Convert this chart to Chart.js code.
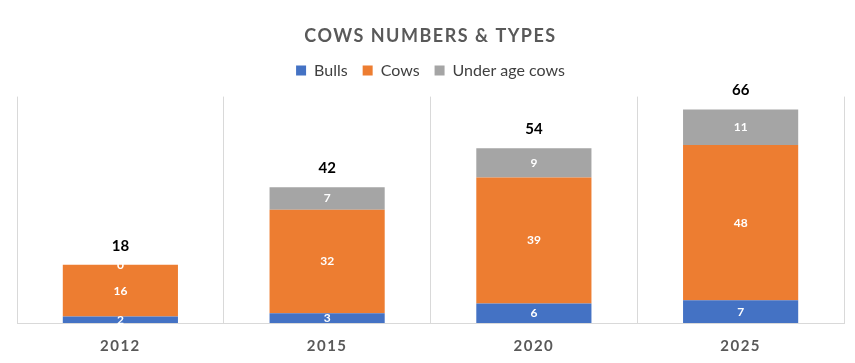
<!DOCTYPE html>
<html>
<head>
<meta charset="utf-8">
<script src="https://cdn.jsdelivr.net/npm/chart.js@4/dist/chart.umd.min.js"></script>
<style>
html,body{margin:0;padding:0;background:#fff;}
#wrap{width:855px;height:363px;}
</style>
</head>
<body>
<div id="wrap"><canvas id="c" width="855" height="363"></canvas></div>
<script>
const categories = ["2012", "2015", "2020", "2025"];
const bulls = [2, 3, 6, 7];
const cows = [16, 32, 39, 48];
const underAge = [0, 7, 9, 11];
const seriesNames = ["Bulls", "Cows", "Under age cows"];
const chartTitle = "COWS NUMBERS & TYPES";

const FONT = "Lato, 'Open Sans', sans-serif";

const spacingPlugin = {
  id: 'spacing',
  beforeLayout(chart) {
    const lg = chart.legend;
    if (lg && !lg._wfit) {
      const origFit = lg.fit.bind(lg);
      lg.fit = function () { origFit(); this.height += 8; };
      lg._wfit = true;
    }
  },
  afterLayout(chart) {
    const ctx = chart.ctx;
    const wrap = (obj, name, ls) => {
      if (!obj || obj['_w_' + name]) return;
      const orig = obj[name].bind(obj);
      obj[name] = function (...a) {
        const prev = ctx.letterSpacing;
        ctx.letterSpacing = ls;
        orig(...a);
        ctx.letterSpacing = prev || '0px';
      };
      obj['_w_' + name] = true;
    };
    wrap(chart.titleBlock, 'draw', '1.5px');
    wrap(chart.scales.x, 'drawLabels', '1.5px');
  }
};

const labelPlugin = {
  id: 'labels',
  afterDatasetsDraw(chart) {
    const ctx = chart.ctx;
    ctx.save();
    ctx.letterSpacing = '0px';
    ctx.textAlign = 'center';
    ctx.textBaseline = 'middle';
    chart.data.datasets.forEach((ds, di) => {
      const meta = chart.getDatasetMeta(di);
      meta.data.forEach((bar, i) => {
        const y = (bar.y + bar.base) / 2;
        ctx.fillStyle = '#ffffff';
        ctx.font = "bold 12px " + FONT;
        ctx.fillText(String(ds.data[i]), bar.x, y);
      });
    });
    const ys = chart.scales.y;
    const xs = chart.scales.x;
    categories.forEach((c, i) => {
      const total = bulls[i] + cows[i] + underAge[i];
      const x = xs.getPixelForValue(i);
      const y = ys.getPixelForValue(total) - 19;
      ctx.fillStyle = '#000000';
      ctx.font = "bold 15px " + FONT;
      ctx.fillText(String(total), x, y);
    });
    ctx.restore();
  }
};

new Chart(document.getElementById('c'), {
  type: 'bar',
  data: {
    labels: categories,
    datasets: [
      { label: seriesNames[0], data: bulls, backgroundColor: '#4472C4' },
      { label: seriesNames[1], data: cows, backgroundColor: '#ED7D31' },
      { label: seriesNames[2], data: underAge, backgroundColor: '#A5A5A5' }
    ]
  },
  options: {
    responsive: false,
    animation: false,
    layout: { padding: { left: 17, right: 11, top: 3, bottom: 0 } },
    datasets: { bar: { categoryPercentage: 1, barPercentage: 0.557, borderWidth: 0 } },
    plugins: {
      title: {
        display: true,
        text: chartTitle,
        color: '#595959',
        font: { family: FONT, size: 18, weight: 'bold' },
        padding: { top: 22, bottom: 1 }
      },
      legend: {
        display: true,
        labels: {
          boxWidth: 10, boxHeight: 10,
          color: '#404040',
          font: { family: FONT, size: 16 },
          padding: 15
        }
      },
      tooltip: { enabled: false }
    },
    scales: {
      x: {
        stacked: true,
        grid: { display: true, offset: true, color: '#D9D9D9', drawTicks: false },
        border: { display: true, color: '#D9D9D9' },
        ticks: { color: '#595959', font: { family: FONT, size: 15, weight: 'bold' }, padding: 14 },
        afterFit(scale) { scale.height = 40; }
      },
      y: {
        stacked: true,
        display: false,
        min: 0,
        max: 70
      }
    }
  },
  plugins: [spacingPlugin, labelPlugin]
});
</script>
</body>
</html>
